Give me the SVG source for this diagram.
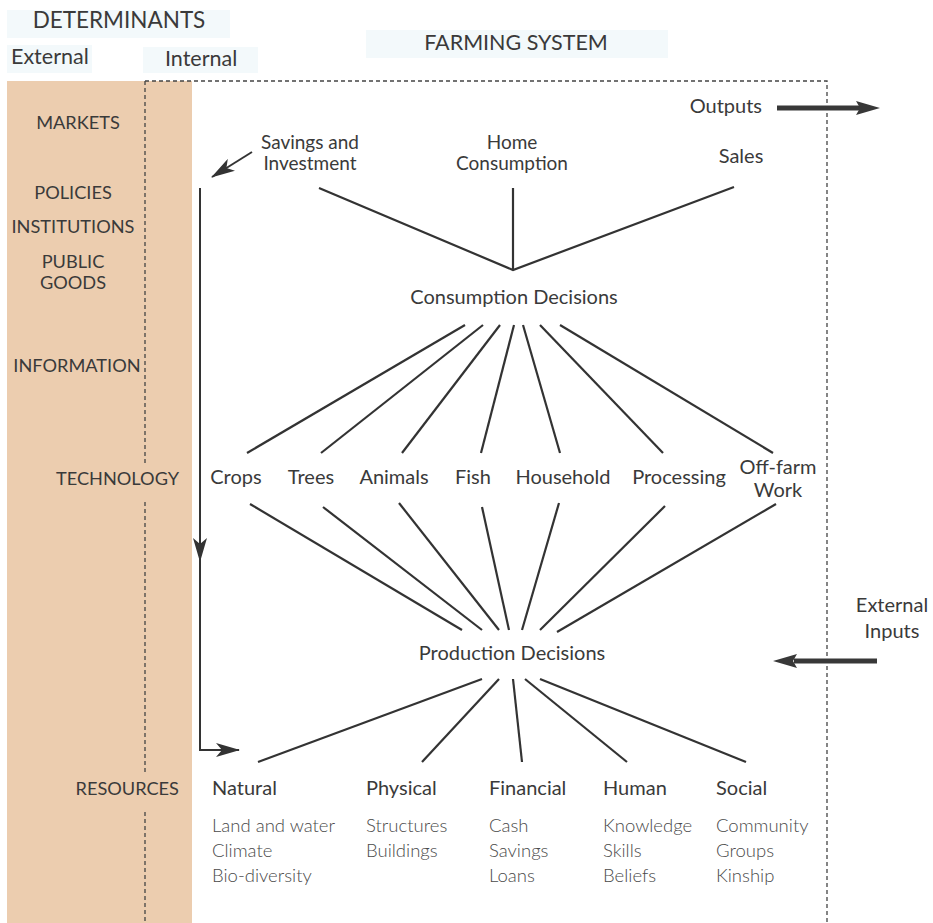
<svg xmlns="http://www.w3.org/2000/svg" width="933" height="923" viewBox="0 0 933 923">
  <style>
    text { font-family: Lato, "Liberation Sans", sans-serif; font-size: 20px; fill: #3a3a3a; }
    .mid { text-anchor: middle; }
    .end { text-anchor: end; }
    .hdr { font-size: 21.5px; }
    .cap { font-size: 18.2px; }
    .two { font-size: 19px; }
    .sub { fill: #4a4a4a; font-weight: 300; font-size: 18.5px; }
    .hdrbg { fill: #f3f9fb; }
    .line { stroke: #333; stroke-width: 2.2; fill: none; }
    .thin { stroke: #333; stroke-width: 2; fill: none; }
    .dash { stroke: #444; stroke-width: 1.3; stroke-dasharray: 4 3; fill: none; }
    .thick { stroke: #383838; stroke-width: 5; fill: none; }
    .head { fill: #383838; }
  </style>
  <defs>
    <marker id="arr" markerUnits="userSpaceOnUse" viewBox="0 0 24 14" refX="23" refY="7" markerWidth="24" markerHeight="14" orient="auto">
      <path d="M0,0 L24,7 L0,14 L6,7 z" fill="#333"/>
    </marker>
  </defs>

  <rect width="933" height="923" fill="#ffffff"/>

  <!-- header backgrounds -->
  <rect class="hdrbg" x="7" y="10" width="223" height="28"/>
  <rect class="hdrbg" x="7" y="45" width="85" height="28"/>
  <rect class="hdrbg" x="143" y="47" width="115" height="26"/>
  <rect class="hdrbg" x="366" y="30" width="302" height="28"/>

  <!-- external determinants band -->
  <rect x="7" y="81" width="185" height="842" fill="#eccdaf"/>

  <!-- boundaries -->
  <g id="boundaries">
    <path class="dash" d="M145,81 H827 V923"/>
    <path class="dash" d="M145,81 V463"/>
    <path class="dash" d="M145,502 V774"/>
    <path class="dash" d="M145,812 V923"/>
  </g>

  <!-- headers -->
  <g id="determinants"><text class="mid" x="119" y="28" style="font-size:22.5px">DETERMINANTS</text></g>
  <g id="external"><text class="hdr" x="11" y="64">External</text></g>
  <g id="internal"><text class="hdr" x="165" y="66">Internal</text></g>
  <g id="farming-system"><text class="mid hdr" x="516" y="50">FARMING SYSTEM</text></g>

  <!-- determinant labels -->
  <g id="markets"><text class="mid cap" x="78" y="129">MARKETS</text></g>
  <g id="policies"><text class="mid cap" x="73" y="199">POLICIES</text></g>
  <g id="institutions"><text class="mid cap" x="73" y="233">INSTITUTIONS</text></g>
  <g id="public-goods"><text class="mid cap" x="73" y="268">PUBLIC</text><text class="mid cap" x="73" y="289">GOODS</text></g>
  <g id="information"><text class="mid cap" x="77" y="372">INFORMATION</text></g>
  <g id="technology"><text class="end cap" x="179" y="485">TECHNOLOGY</text></g>
  <g id="resources"><text class="end cap" x="179" y="795">RESOURCES</text></g>

  <!-- connectors -->
  <g id="connectors">
    <!-- to consumption decisions -->
    <path class="line" d="M319,188 L513,270 L734,187"/>
    <path class="line" d="M513,188 V270"/>
    <!-- consumption decisions fan -->
    <path class="line" d="M465,325 L247,453"/>
    <path class="line" d="M483,325 L321,453"/>
    <path class="line" d="M500,325 L402,453"/>
    <path class="line" d="M514,325 L481,453"/>
    <path class="line" d="M523,325 L560,453"/>
    <path class="line" d="M540,325 L663,453"/>
    <path class="line" d="M560,325 L773,453"/>
    <!-- activities to production decisions -->
    <path class="line" d="M250,504 L462,630"/>
    <path class="line" d="M323,507 L482,630"/>
    <path class="line" d="M399,503 L499,630"/>
    <path class="line" d="M482,507 L509,630"/>
    <path class="line" d="M559,503 L522,630"/>
    <path class="line" d="M665,506 L540,630"/>
    <path class="line" d="M776,504 L557,632"/>
    <!-- production decisions to resources -->
    <path class="line" d="M482,679 L258,762"/>
    <path class="line" d="M499,679 L422,762"/>
    <path class="line" d="M513,679 L522,762"/>
    <path class="line" d="M525,679 L627,762"/>
    <path class="line" d="M540,679 L746,762"/>
    <!-- savings and investment loop -->
    <path class="thin" d="M252,152 L212,177" marker-end="url(#arr)"/>
    <path class="thin" d="M200,188 V561" marker-end="url(#arr)"/>
    <path class="thin" d="M200,555 V750 H239" marker-end="url(#arr)"/>
    <!-- outputs -->
    <path class="thick" d="M777,108 H860"/>
    <path class="head" d="M856,101 L880,108 L856,115 L860,108 z"/>
    <!-- external inputs -->
    <path class="thick" d="M877,661 H794"/>
    <path class="head" d="M797,654 L773,661 L797,668 L793,661 z"/>
  </g>

  <!-- farming system nodes -->
  <g id="outputs"><text class="end" x="762" y="113">Outputs</text></g>
  <g id="savings"><text class="mid two" x="310" y="149">Savings and</text><text class="mid two" x="310" y="170">Investment</text></g>
  <g id="home-consumption"><text class="mid two" x="512" y="149">Home</text><text class="mid two" x="512" y="170">Consumption</text></g>
  <g id="sales"><text class="mid" x="741" y="163">Sales</text></g>
  <g id="consumption-decisions"><text class="mid" x="514" y="304">Consumption Decisions</text></g>

  <g id="crops"><text class="mid" x="236" y="484">Crops</text></g>
  <g id="trees"><text class="mid" x="311" y="484">Trees</text></g>
  <g id="animals"><text class="mid" x="394" y="484">Animals</text></g>
  <g id="fish"><text class="mid" x="473" y="484">Fish</text></g>
  <g id="household"><text class="mid" x="563" y="484">Household</text></g>
  <g id="processing"><text class="mid" x="679" y="484">Processing</text></g>
  <g id="off-farm"><text class="mid" x="778" y="474">Off-farm</text><text class="mid" x="778" y="497">Work</text></g>

  <g id="production-decisions"><text class="mid" x="512" y="660">Production Decisions</text></g>
  <g id="external-inputs"><text class="mid" x="892" y="612">External</text><text class="mid" x="892" y="638">Inputs</text></g>

  <g id="natural">
    <text x="212" y="795">Natural</text>
    <text class="sub" x="212" y="832">Land and water</text>
    <text class="sub" x="212" y="857">Climate</text>
    <text class="sub" x="212" y="882">Bio-diversity</text>
  </g>
  <g id="physical">
    <text x="366" y="795">Physical</text>
    <text class="sub" x="366" y="832">Structures</text>
    <text class="sub" x="366" y="857">Buildings</text>
  </g>
  <g id="financial">
    <text x="489" y="795">Financial</text>
    <text class="sub" x="489" y="832">Cash</text>
    <text class="sub" x="489" y="857">Savings</text>
    <text class="sub" x="489" y="882">Loans</text>
  </g>
  <g id="human">
    <text x="603" y="795">Human</text>
    <text class="sub" x="603" y="832">Knowledge</text>
    <text class="sub" x="603" y="857">Skills</text>
    <text class="sub" x="603" y="882">Beliefs</text>
  </g>
  <g id="social">
    <text x="716" y="795">Social</text>
    <text class="sub" x="716" y="832">Community</text>
    <text class="sub" x="716" y="857">Groups</text>
    <text class="sub" x="716" y="882">Kinship</text>
  </g>
</svg>
